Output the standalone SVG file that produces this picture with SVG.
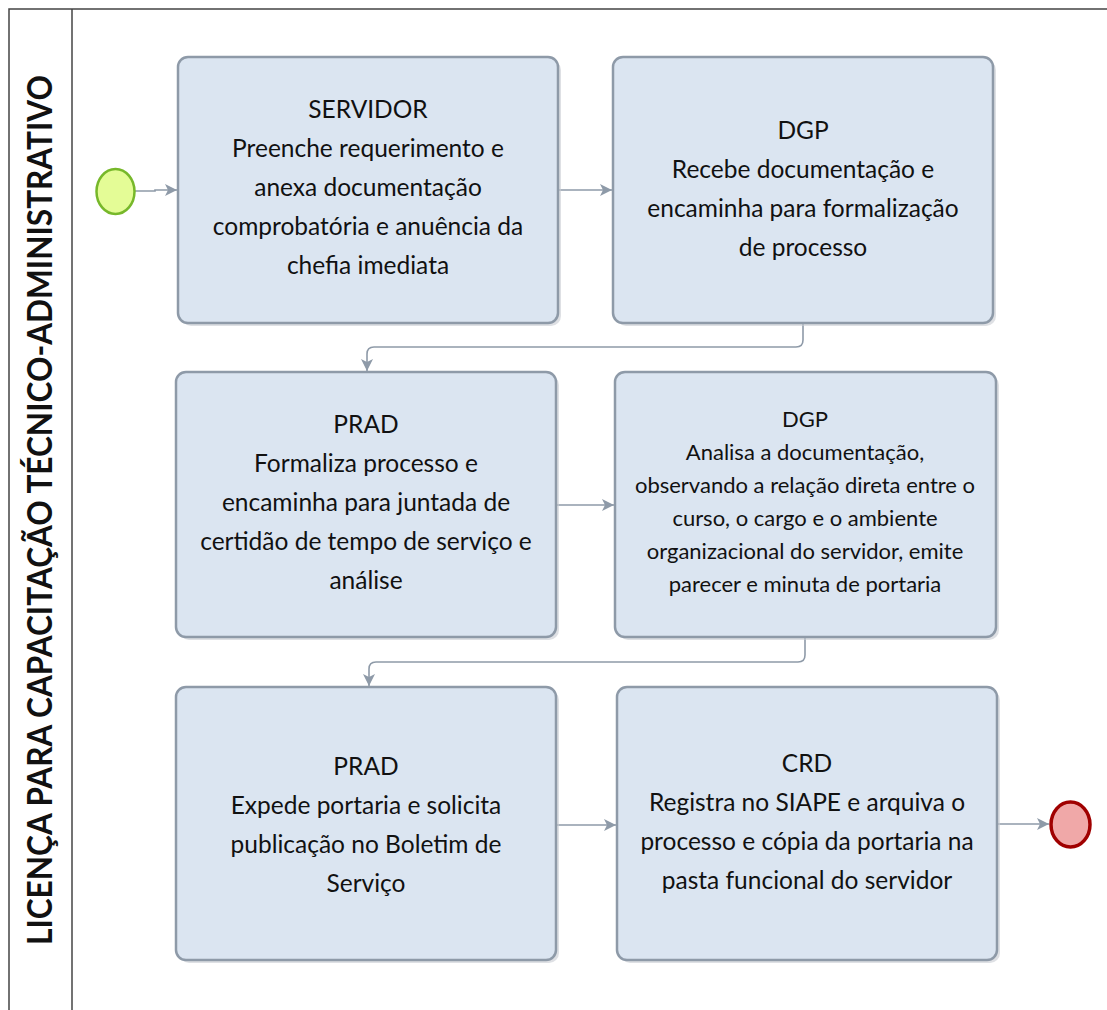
<svg xmlns="http://www.w3.org/2000/svg" width="1107" height="1010" viewBox="0 0 1107 1010">
<style>
.box{fill:#dbe5f1;stroke:#8e9aa8;stroke-width:2.5}
.shadow{fill:#c8ccd2;opacity:0.6}
.t{font-family:Lato,"Liberation Sans",sans-serif;font-size:24.5px;fill:#111;text-anchor:middle}
.ts{font-family:Lato,"Liberation Sans",sans-serif;font-size:22px;fill:#111;text-anchor:middle}
.conn{fill:none;stroke:#8e9aa8;stroke-width:1.6}
.title{font-family:Lato,"Liberation Sans",sans-serif;font-size:34px;font-weight:bold;fill:#111;text-anchor:middle}
</style>
<defs>
<marker id="ah" viewBox="0 0 12 12" refX="12" refY="6" markerWidth="12" markerHeight="12" markerUnits="userSpaceOnUse" orient="auto">
<path d="M0,0 L12,6 L0,12 L3,6 Z" fill="#8e9aa8"/>
</marker>
</defs>
<rect width="1107" height="1010" fill="#fff"/>
<g id="pool">
<rect x="9" y="9" width="1110" height="1020" fill="none" stroke="#444" stroke-width="1.5"/>
<line x1="72" y1="9" x2="72" y2="1010" stroke="#444" stroke-width="1.5"/>
<text class="title" transform="translate(52,510) rotate(-90)" textLength="870" lengthAdjust="spacingAndGlyphs">LICENÇA PARA CAPACITAÇÃO TÉCNICO-ADMINISTRATIVO</text>
</g>
<g id="connectors">
<path class="conn" d="M135,191 H155 V190 H177" marker-end="url(#ah)"/>
<path class="conn" d="M558,190 H612" marker-end="url(#ah)"/>
<path class="conn" d="M803,323 V340 Q803,347 796,347 H374 Q367,347 367,354 V371" marker-end="url(#ah)"/>
<path class="conn" d="M556,505 H614" marker-end="url(#ah)"/>
<path class="conn" d="M805,637 V655 Q805,662 798,662 H376 Q369,662 369,669 V686" marker-end="url(#ah)"/>
<path class="conn" d="M556,825 H616" marker-end="url(#ah)"/>
<path class="conn" d="M997,824 H1049" marker-end="url(#ah)"/>
</g>
<g id="start">
<ellipse cx="115.5" cy="191.5" rx="19" ry="22.5" fill="#e4fc96" stroke="#77b82a" stroke-width="2.5"/>
</g>
<g id="end">
<ellipse cx="1070.5" cy="824.5" rx="19.5" ry="22.5" fill="#f0a8a8" stroke="#a00000" stroke-width="3.5"/>
</g>
<g id="n1">
<rect class="shadow" x="181" y="60" width="380" height="266" rx="10"/>
<rect class="box" x="178" y="57" width="380" height="266" rx="10"/>
<text class="t" x="368" y="118">SERVIDOR</text>
<text class="t" x="368" y="157">Preenche requerimento e</text>
<text class="t" x="368" y="196">anexa documentação</text>
<text class="t" x="368" y="235">comprobatória e anuência da</text>
<text class="t" x="368" y="274">chefia imediata</text>
</g>
<g id="n2">
<rect class="shadow" x="616" y="60" width="380" height="266" rx="10"/>
<rect class="box" x="613" y="57" width="380" height="266" rx="10"/>
<text class="t" x="803" y="139">DGP</text>
<text class="t" x="803" y="178">Recebe documentação e</text>
<text class="t" x="803" y="217">encaminha para formalização</text>
<text class="t" x="803" y="256">de processo</text>
</g>
<g id="n3">
<rect class="shadow" x="179" y="375" width="380" height="265" rx="10"/>
<rect class="box" x="176" y="372" width="380" height="265" rx="10"/>
<text class="t" x="366" y="433">PRAD</text>
<text class="t" x="366" y="472">Formaliza processo e</text>
<text class="t" x="366" y="511">encaminha para juntada de</text>
<text class="t" x="366" y="550">certidão de tempo de serviço e</text>
<text class="t" x="366" y="589">análise</text>
</g>
<g id="n4">
<rect class="shadow" x="618" y="375" width="381" height="265" rx="10"/>
<rect class="box" x="615" y="372" width="381" height="265" rx="10"/>
<text class="ts" x="805" y="427">DGP</text>
<text class="ts" x="805" y="460">Analisa a documentação,</text>
<text class="ts" x="805" y="493">observando a relação direta entre o</text>
<text class="ts" x="805" y="526">curso, o cargo e o ambiente</text>
<text class="ts" x="805" y="559">organizacional do servidor, emite</text>
<text class="ts" x="805" y="592">parecer e minuta de portaria</text>
</g>
<g id="n5">
<rect class="shadow" x="179" y="690" width="380" height="273" rx="10"/>
<rect class="box" x="176" y="687" width="380" height="273" rx="10"/>
<text class="t" x="366" y="775">PRAD</text>
<text class="t" x="366" y="814">Expede portaria e solicita</text>
<text class="t" x="366" y="853">publicação no Boletim de</text>
<text class="t" x="366" y="892">Serviço</text>
</g>
<g id="n6">
<rect class="shadow" x="620" y="690" width="380" height="273" rx="10"/>
<rect class="box" x="617" y="687" width="380" height="273" rx="10"/>
<text class="t" x="807" y="772">CRD</text>
<text class="t" x="807" y="811">Registra no SIAPE e arquiva o</text>
<text class="t" x="807" y="850">processo e cópia da portaria na</text>
<text class="t" x="807" y="889">pasta funcional do servidor</text>
</g>
</svg>
